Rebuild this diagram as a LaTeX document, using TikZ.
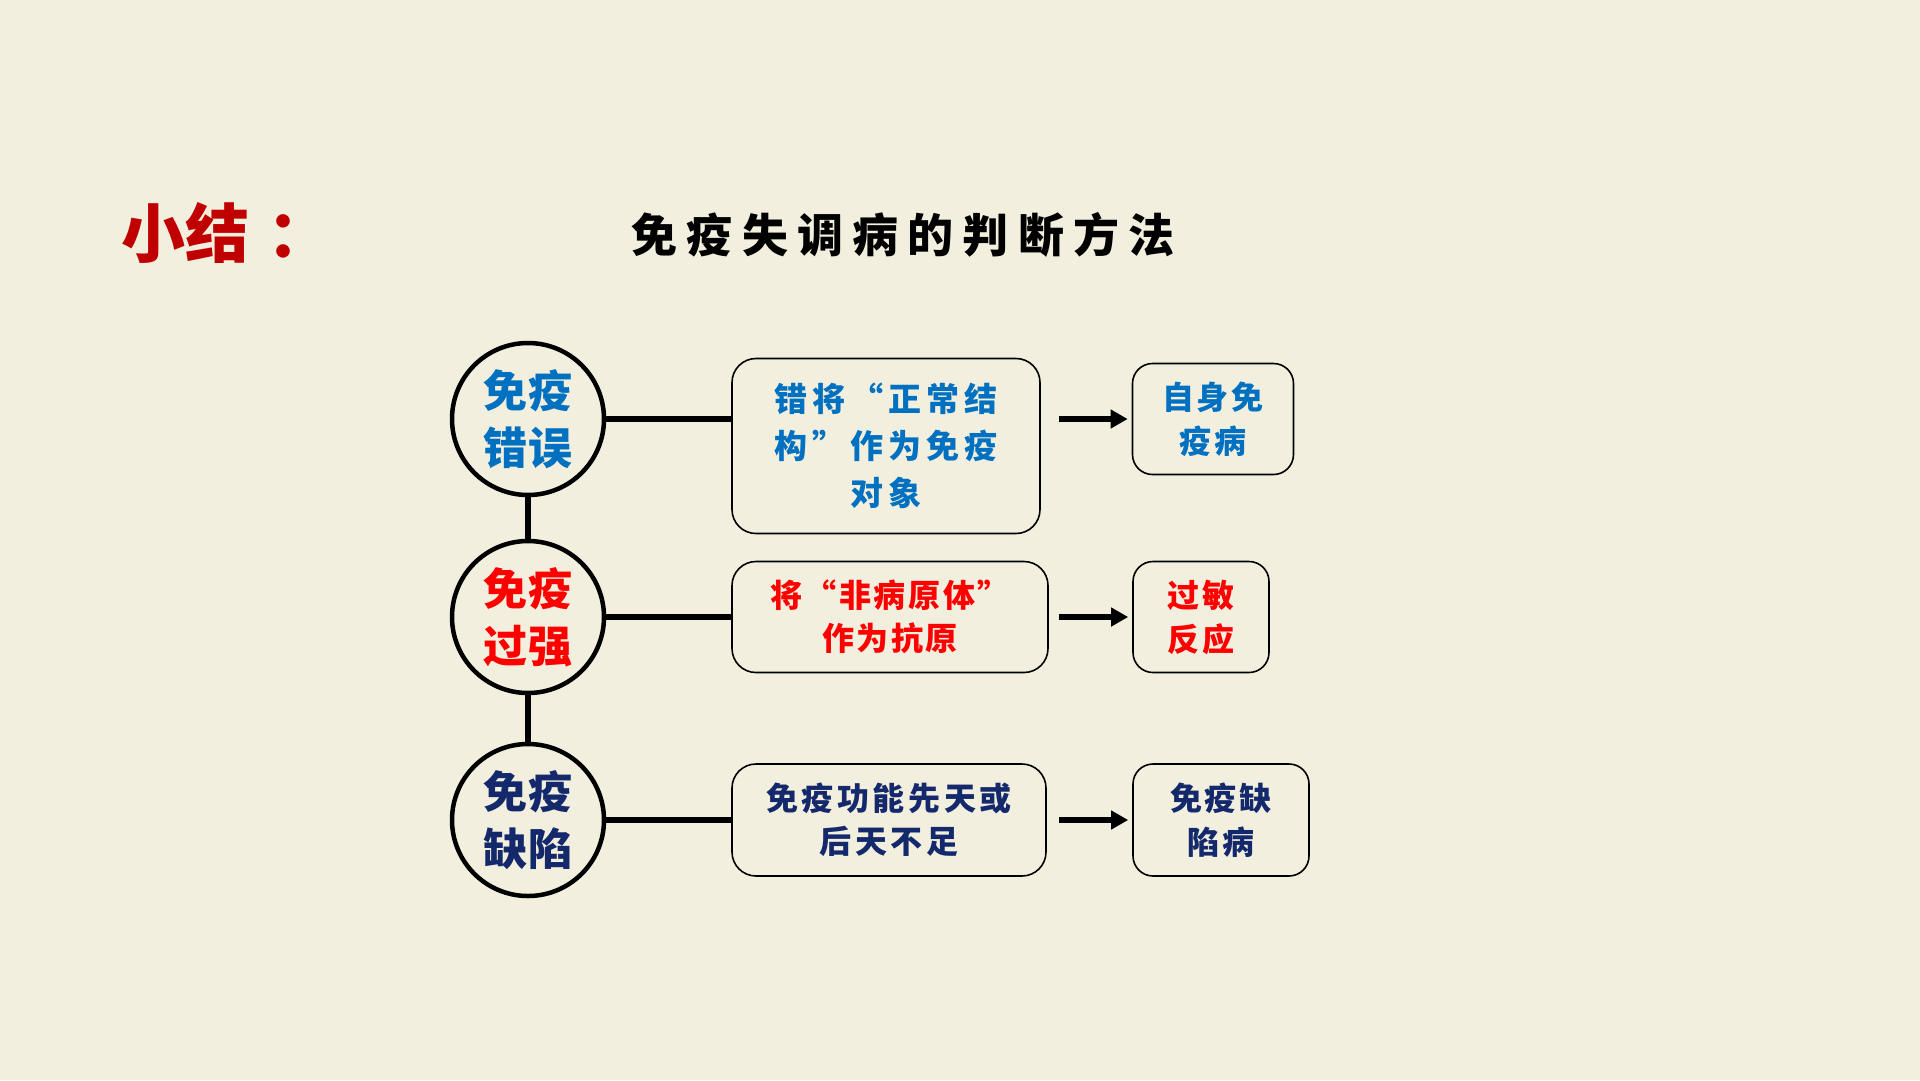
\documentclass[tikz,border=0pt]{standalone}
\usepackage{fontspec}
\setmainfont{Noto Sans CJK SC}
\usetikzlibrary{arrows.meta}
\definecolor{bg}{HTML}{F3EFDE}
\definecolor{cblue}{HTML}{0070C0}
\definecolor{cred}{HTML}{FF0000}
\definecolor{cnavy}{HTML}{14296B}
\definecolor{cdred}{HTML}{C00000}
\tikzset{
  circ/.style={circle,draw=black,line width=4.5pt,minimum size=152pt,inner sep=0pt,align=center,
    font=\fontsize{44}{57}\selectfont\bfseries\addfontfeature{LetterSpace=3}},
  midbox/.style={draw=black,line width=1.6pt,rounded corners=24pt,align=center,inner sep=0pt,
    font=\fontsize{33}{47}\selectfont\bfseries\addfontfeature{LetterSpace=15}},
  endbox/.style={draw=black,line width=1.6pt,rounded corners=20pt,align=center,inner sep=0pt,
    font=\fontsize{32}{44}\selectfont\bfseries\addfontfeature{LetterSpace=8}},
  link/.style={line width=5.5pt},
  arr/.style={line width=5.5pt,-{Triangle[length=17pt,width=18pt]}}
}
\begin{document}
\begin{tikzpicture}[x=1pt,y=-1pt]
\fill[bg] (0,0) rectangle (1920,1080);
\useasboundingbox (0,0) rectangle (1920,1080);

\node[anchor=west,text=cdred,font=\fontsize{64}{64}\selectfont\bfseries] (sum) at (118,233) {小结\hspace{18pt}：};
\node[font=\fontsize{46}{46}\selectfont\bfseries\addfontfeature{LetterSpace=20}] (title) at (903,235) {免疫失调病的判断方法};

\node[circ,text=cblue] (c1) at (528,419) {免疫\\错误};
\node[circ,text=cred] (c2) at (528,617) {免疫\\过强};
\node[circ,text=cnavy] (c3) at (528,820) {免疫\\缺陷};

\node[midbox,text=cblue,minimum width=308pt,minimum height=175pt] (b1) at (886,446) {错将“正常结\\构”作为免疫\\对象};
\node[midbox,text=cred,minimum width=316pt,minimum height=111pt,font=\fontsize{32}{43}\selectfont\bfseries\addfontfeature{LetterSpace=8}] (b2) at (890,617) {将“非病原体”\\作为抗原};
\node[midbox,text=cnavy,minimum width=314pt,minimum height=112pt,font=\fontsize{32}{43}\selectfont\bfseries\addfontfeature{LetterSpace=11}] (b3) at (889,820) {免疫功能先天或\\后天不足};

\node[endbox,text=cblue,minimum width=161pt,minimum height=111pt] (r1) at (1213,419) {自身免\\疫病};
\node[endbox,text=cred,minimum width=136pt,minimum height=111pt] (r2) at (1201,617) {过敏\\反应};
\node[endbox,text=cnavy,minimum width=176pt,minimum height=112pt] (r3) at (1221,820) {免疫缺\\陷病};

\draw[link] (c1.south) -- (c2.north);
\draw[link] (c2.south) -- (c3.north);
\draw[link] (c1.east) -- (c1.east -| b1.west);
\draw[link] (c2.east) -- (c2.east -| b2.west);
\draw[link] (c3.east) -- (c3.east -| b3.west);

\coordinate (a1) at (1059,419);
\coordinate (a2) at (1059,617);
\coordinate (a3) at (1059,820);
\draw[arr] (a1) -- ([xshift=-4pt]r1.west);
\draw[arr] (a2) -- ([xshift=-4pt]r2.west);
\draw[arr] (a3) -- ([xshift=-4pt]r3.west);
\end{tikzpicture}
\end{document}
